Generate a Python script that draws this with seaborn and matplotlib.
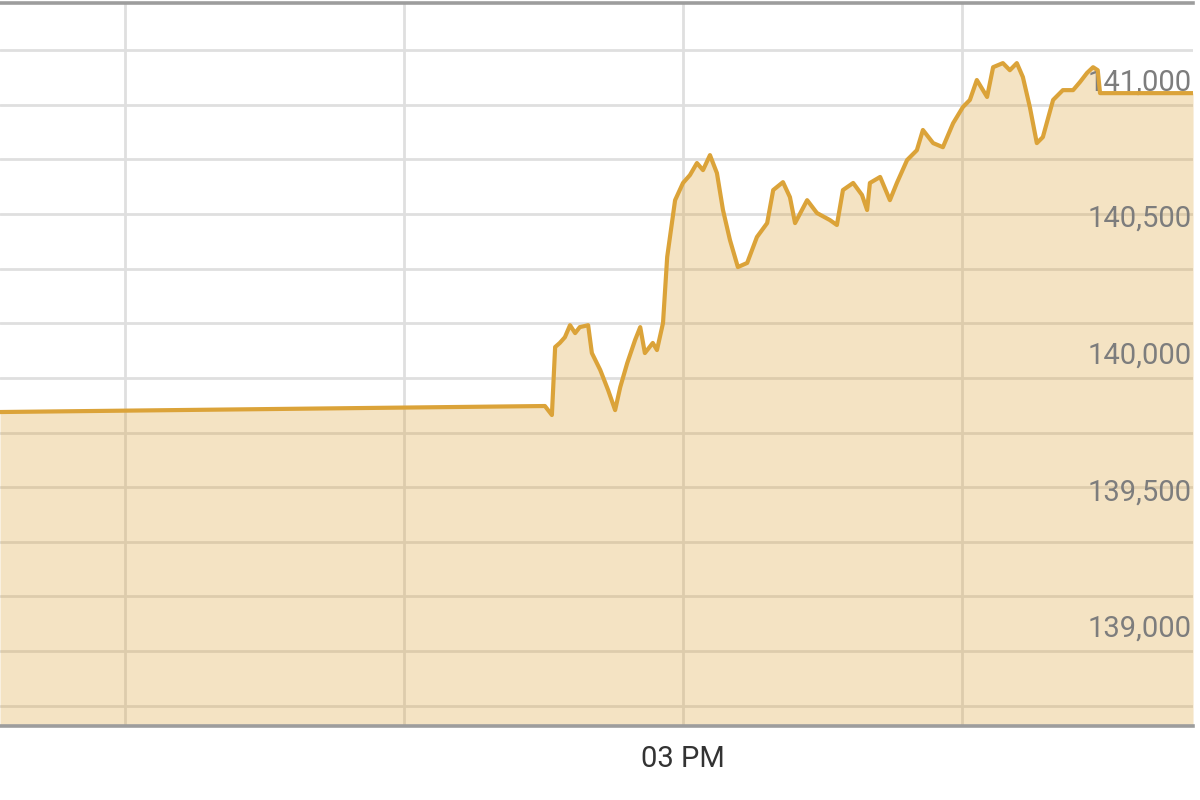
import pandas as pd
import seaborn as sns
import matplotlib.pyplot as plt
from matplotlib import transforms


# Intraday prices (time = minutes after 12:00)
minutes = [33.1, 150.3, 151.8, 152.5, 153.5, 154.6, 155.7, 156.8, 157.8, 159.6,
           160.4, 162.2, 163.9, 165.4, 166.5, 168.0, 169.7, 170.8, 171.8, 173.5,
           174.4, 175.7, 176.6, 178.3, 180.0, 181.5, 183.0, 184.3, 185.8, 187.3,
           188.6, 190.1, 191.8, 193.8, 195.9, 198.1, 199.4, 201.5, 203.0, 204.1,
           206.7, 208.8, 211.6, 213.1, 214.4, 216.6, 218.5, 219.6, 220.2, 222.4,
           224.5, 226.0, 228.2, 230.3, 231.6, 233.8, 235.9, 238.1, 240.2, 241.7,
           243.2, 245.4, 246.7, 248.8, 250.3, 251.8, 253.1, 254.6, 256.1, 257.4,
           259.6, 261.7, 263.9, 265.4, 266.9, 268.2, 269.2, 269.7, 289.7]
prices = [139775, 139797, 139764, 140013, 140028, 140049, 140093, 140064, 140086, 140093,
          139991, 139929, 139855, 139782, 139866, 139954, 140039, 140086, 139991, 140028,
          140002, 140101, 140343, 140551, 140614, 140643, 140687, 140661, 140716, 140650,
          140515, 140405, 140306, 140321, 140416, 140467, 140588, 140617, 140562, 140467,
          140551, 140504, 140478, 140460, 140588, 140614, 140570, 140515, 140614, 140636,
          140551, 140614, 140698, 140734, 140808, 140760, 140745, 140833, 140892, 140918,
          140991, 140929, 141038, 141053, 141027, 141053, 141002, 140892, 140760, 140782,
          140918, 140954, 140954, 140984, 141017, 141038, 141027, 140943, 140943]

price_labels = [139000, 139500, 140000, 140500, 141000]
grid_prices = list(range(138700, 141300, 200))
hour_ticks = [60, 120, 180, 240]
hour_labels = ["", "", "03 PM", ""]

LINE_COLOR = "#DBA339"
Y_MIN, Y_MAX = 138625, 141273


def plot_intraday(df):
    fig = plt.figure(figsize=(12, 8), dpi=100)
    ax = fig.add_axes([0, 0.0925, 0.9942, 0.9037])

    ax.fill_between(df["minute"], df["price"], Y_MIN, color=LINE_COLOR,
                    alpha=0.3, linewidth=0, zorder=2)
    sns.lineplot(x="minute", y="price", data=df, ax=ax, color=LINE_COLOR,
                 linewidth=3.0, estimator=None, sort=False, zorder=4)

    ax.set_xlim(df["minute"].min(), df["minute"].max())
    ax.set_ylim(Y_MIN, Y_MAX)

    # gridlines
    ax.set_yticks(grid_prices)
    ax.set_yticklabels([])
    ax.set_xticks(hour_ticks)
    ax.set_xticklabels(hour_labels, fontsize=21, color="#333333")
    ax.tick_params(axis="both", length=0)
    ax.tick_params(axis="x", pad=14)
    ax.grid(True, color="#dfdfdf", linewidth=2.0)
    ax.set_axisbelow(True)

    # price labels inside the plot, right aligned
    trans = transforms.offset_copy(ax.get_yaxis_transform(), fig=fig,
                                   x=-1, y=-5, units="dots")
    for p in price_labels:
        ax.text(1.0, p, f"{p:,}", transform=trans, ha="right", va="center",
                fontsize=21, color="#7d7d7d", zorder=3)

    ax.set_xlabel("")
    ax.set_ylabel("")
    for side in ["left", "right"]:
        ax.spines[side].set_visible(False)
    for side in ["top", "bottom"]:
        ax.spines[side].set_color("#9d9d9d")
        ax.spines[side].set_linewidth(2.6)

    fig.savefig("out.png", dpi=100)


def main():
    sns.set_style("white")
    plt.rcParams["font.family"] = ["Roboto", "DejaVu Sans"]
    df = pd.DataFrame({"minute": minutes, "price": prices})
    plot_intraday(df)


if __name__ == "__main__":
    main()
